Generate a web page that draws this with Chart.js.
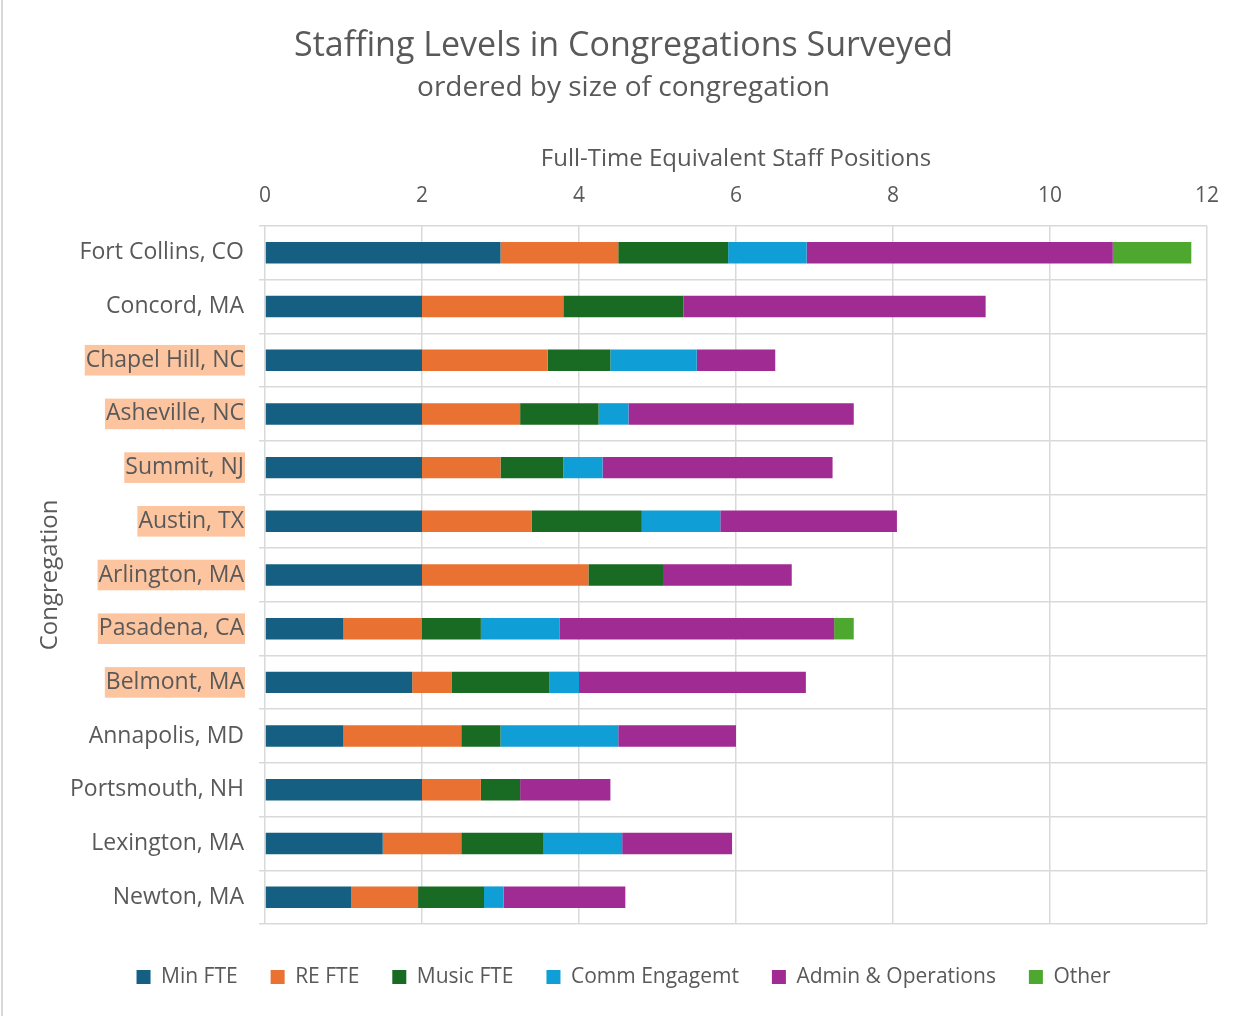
<!DOCTYPE html>
<html>
<head>
<meta charset="utf-8">
<script src="https://cdn.jsdelivr.net/npm/chart.js@4"></script>
<style>
  html, body { margin: 0; padding: 0; background: #fff; }
  #wrap { position: relative; width: 1247px; height: 1016px; }
</style>
</head>
<body>
<div id="wrap"><canvas id="staffChart"></canvas></div>
<script>
// Congregations, ordered by size (largest first)
const categories = [
  "Fort Collins, CO", "Concord, MA", "Chapel Hill, NC", "Asheville, NC",
  "Summit, NJ", "Austin, TX", "Arlington, MA", "Pasadena, CA",
  "Belmont, MA", "Annapolis, MD", "Portsmouth, NH", "Lexington, MA", "Newton, MA"
];
// labels shown with a peach highlight
const highlighted = [false, false, true, true, true, true, true, true, true, false, false, false, false];

const minFte    = [3.0, 2.0, 2.0, 2.0,  2.0, 2.0, 2.0,  1.0,  1.875, 1.0, 2.0,  1.5,  1.1];
const reFte     = [1.5, 1.8, 1.6, 1.25, 1.0, 1.4, 2.12, 1.0,  0.5,   1.5, 0.75, 1.0,  0.85];
const musicFte  = [1.4, 1.53, 0.8, 1.0, 0.8, 1.4, 0.95, 0.75, 1.25,  0.5, 0.5,  1.05, 0.84];
const commFte   = [1.0, 0,   1.1, 0.38, 0.5, 1.0, 0,    1.0,  0.375, 1.5, 0,    1.0,  0.25];
const adminFte  = [3.9, 3.85, 1.0, 2.87, 2.93, 2.25, 1.64, 3.5, 2.89, 1.5, 1.15, 1.4,  1.55];
const otherFte  = [1.0, 0,   0,   0,    0,   0,   0,    0.25, 0,     0,   0,    0,    0];

const xTicks = [0, 2, 4, 6, 8, 10, 12];

const TEXT = "#595959";
const GRID = "#d9d9d9";
const FONT = "'Open Sans', 'Noto Sans', sans-serif";

function series(label, data, color) {
  return {
    label,
    data,
    backgroundColor: color,
    borderWidth: 0,
    barPercentage: 0.4,
    categoryPercentage: 1.0
  };
}

// white background + the thin frame line on the left edge
const pageBg = {
  id: "pageBg",
  beforeDraw(chart) {
    const { ctx, width, height } = chart;
    ctx.save();
    ctx.fillStyle = "#fff";
    ctx.fillRect(0, 0, width, height);
    ctx.fillStyle = "#d9d9d9";
    ctx.fillRect(1, 0, 2, height);
    ctx.restore();
  }
};

Chart.defaults.font.family = FONT;
Chart.defaults.color = TEXT;

new Chart(document.getElementById("staffChart").getContext("2d"), {
  type: "bar",
  data: {
    labels: categories,
    datasets: [
      series("Min FTE", minFte, "#156082"),
      series("RE FTE", reFte, "#e97132"),
      series("Music FTE", musicFte, "#196b24"),
      series("Comm Engagemt", commFte, "#0f9ed5"),
      series("Admin & Operations", adminFte, "#a02b93"),
      series("Other", otherFte, "#4ea72e")
    ]
  },
  options: {
    indexAxis: "y",
    responsive: true,
    maintainAspectRatio: false,
    animation: false,
    layout: { padding: { top: 0, right: 0, bottom: 18.5, left: 0 } },
    scales: {
      x: {
        position: "top",
        stacked: true,
        min: 0,
        max: 12,
        afterBuildTicks: axis => { axis.ticks = xTicks.map(v => ({ value: v })); },
        afterFit: axis => { axis.height = 86; },
        ticks: { color: TEXT, font: { size: 21 }, padding: 17 },
        grid: { color: GRID, lineWidth: 1.5, drawTicks: false },
        border: { display: false },
        title: {
          display: true,
          text: "Full-Time Equivalent Staff Positions",
          color: TEXT,
          font: { size: 24 },
          padding: { top: 4.4, bottom: 0 }
        }
      },
      y: {
        stacked: true,
        afterFit: axis => { axis.width = 265; },
        ticks: {
          color: TEXT,
          font: { size: 23 },
          padding: 15,
          showLabelBackdrop: true,
          backdropColor: c => highlighted[c.index] ? "#fcc5a0" : "rgba(0,0,0,0)",
          backdropPadding: { x: 1, y: 1.5 }
        },
        grid: { color: GRID, lineWidth: 1.5, tickLength: 6 },
        border: { display: false },
        title: {
          display: true,
          text: "Congregation",
          color: TEXT,
          font: { size: 24 },
          padding: { top: 35.6, bottom: 0 }
        }
      },
      // empty right-hand spacer so the titles stay centred on the page
      yRight: {
        type: "category",
        position: "right",
        afterFit: axis => { axis.width = 40; },
        ticks: { display: false },
        grid: { display: false },
        border: { display: false }
      }
    },
    plugins: {
      title: {
        display: true,
        text: "Staffing Levels in Congregations Surveyed",
        color: TEXT,
        font: { size: 34, weight: "normal" },
        padding: { top: 25.6, bottom: 0 }
      },
      subtitle: {
        display: true,
        text: "ordered by size of congregation",
        color: TEXT,
        font: { size: 28 },
        padding: { top: 4.4, bottom: 35.6 }
      },
      legend: {
        position: "bottom",
        title: { display: true, text: "", font: { size: 5 }, padding: { top: 3.5, bottom: 0 } },
        labels: {
          color: TEXT,
          font: { size: 21 },
          boxWidth: 14,
          boxHeight: 14,
          padding: 33
        }
      },
      tooltip: { enabled: false }
    }
  },
  plugins: [pageBg]
});
</script>
</body>
</html>
